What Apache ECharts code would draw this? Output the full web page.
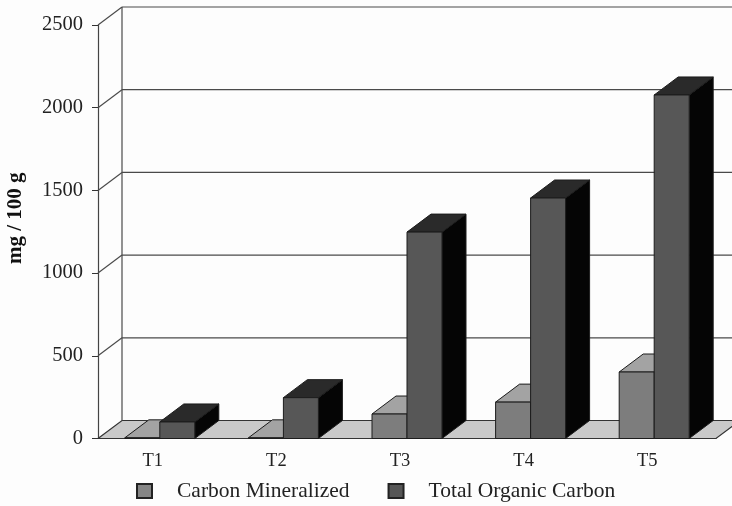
<!DOCTYPE html>
<html>
<head>
<meta charset="utf-8">
<style>html,body{margin:0;padding:0;background:#fdfdfd}#c{width:732px;height:506px}</style>
<script src="https://cdn.jsdelivr.net/npm/echarts@6/dist/echarts.min.js"></script>
</head>
<body>
<div id="c"></div>
<script>
const categories = ['T1','T2','T3','T4','T5'];
const yTicks = [0,500,1000,1500,2000,2500];
const carbonMineralized = [4,4,148,220,402];
const totalOrganicCarbon = [100,247,1248,1454,2077];

const DX = 24, DY = -18, BAR_FRAC = 35/123.6;
const serif = '"Liberation Serif", serif';
const chart = echarts.init(document.getElementById('c'));

function wallItem(params, api){
  const v = api.value(1);
  const cs = params.coordSys;
  const y = api.coord([0, v])[1];
  const x0 = cs.x, x1 = cs.x + cs.width;
  const line = {stroke:'#4a4a4a', lineWidth:1.2};
  const kids = [];
  if (v === 0){
    kids.push({type:'polygon', shape:{points:[[x0,y],[x0+DX,y+DY],[x1+DX,y+DY],[x1,y]]},
      style:{fill:'#c9c9c9', stroke:'#333', lineWidth:1.2}});
  } else {
    kids.push({type:'line', shape:{x1:x0,y1:y,x2:x0+DX,y2:y+DY}, style:line});
    kids.push({type:'line', shape:{x1:x0+DX,y1:y+DY,x2:x1+DX,y2:y+DY}, style:line});
  }
  if (v === yTicks[yTicks.length-1]){
    const yb = api.coord([0,0])[1] + DY;
    kids.push({type:'line', shape:{x1:x0+DX,y1:y+DY,x2:x0+DX,y2:yb}, style:line});
  }
  return {type:'group', children:kids};
}

function barRenderer(side, front, top, dark){
  return function(params, api){
    const p = api.coord([api.value(0), api.value(1)]);
    const base = api.coord([api.value(0), 0])[1];
    const w = api.size([1,0])[0] * BAR_FRAC;
    const l = side < 0 ? p[0]-w : p[0], r = l+w, t = p[1];
    const st = (fill)=>({fill, stroke:'#1c1c1c', lineWidth:1});
    return {type:'group', children:[
      {type:'polygon', shape:{points:[[r,base],[r+DX,base+DY],[r+DX,t+DY],[r,t]]}, style:st(dark)},
      {type:'polygon', shape:{points:[[l,t],[l+DX,t+DY],[r+DX,t+DY],[r,t]]}, style:st(top)},
      {type:'polygon', shape:{points:[[l,t],[r,t],[r,base],[l,base]]}, style:st(front)}
    ]};
  };
}

chart.setOption({
  animation:false,
  backgroundColor:'#fdfdfd',
  textStyle:{fontFamily:serif},
  grid:{left:98, right:16, top:25, bottom:67.5, outerBoundsMode:'none'},
  legend:{
    left:136, top:480, padding:0, itemWidth:15, itemHeight:14, itemGap:38, icon:'rect',
    data:['Carbon Mineralized','Total Organic Carbon'],
    textStyle:{fontFamily:serif, fontSize:21.5, color:'#222', padding:[0,0,0,20]}
  },
  xAxis:{
    type:'category', data:categories,
    axisLine:{lineStyle:{color:'#333', width:1.2}},
    axisTick:{length:6, lineStyle:{color:'#333'}},
    axisLabel:{fontFamily:serif, fontSize:18.5, color:'#222', margin:13, padding:[0,14,0,0]}
  },
  yAxis:{
    type:'value', min:0, max:2500, interval:500,
    name:'mg / 100 g', nameLocation:'middle', nameGap:72,
    nameTextStyle:{fontFamily:serif, fontSize:21, fontWeight:'bold', color:'#111', padding:[0,0,0,27]},
    axisLine:{show:true, lineStyle:{color:'#444', width:1.2}},
    axisTick:{show:true, length:6, lineStyle:{color:'#333'}},
    axisLabel:{fontFamily:serif, fontSize:20.5, color:'#222', margin:15, formatter:(v)=>String(v)},
    splitLine:{show:false}
  },
  series:[
    {type:'custom', name:'walls', z:1, clip:false, silent:true,
      data:yTicks.map(v=>[0,v]), encode:{x:0,y:1}, renderItem:wallItem},
    {type:'custom', name:'Carbon Mineralized', z:2, clip:false,
      itemStyle:{color:'#858585', borderColor:'#222', borderWidth:1},
      data:carbonMineralized.map((v,i)=>[i,v]), encode:{x:0,y:1},
      renderItem:barRenderer(-1,'#7d7d7d','#a3a3a3','#333')},
    {type:'custom', name:'Total Organic Carbon', z:3, clip:false,
      itemStyle:{color:'#565656', borderColor:'#222', borderWidth:1},
      data:totalOrganicCarbon.map((v,i)=>[i,v]), encode:{x:0,y:1},
      renderItem:barRenderer(1,'#575757','#2a2a2a','#050505')}
  ]
});
</script>
</body>
</html>
